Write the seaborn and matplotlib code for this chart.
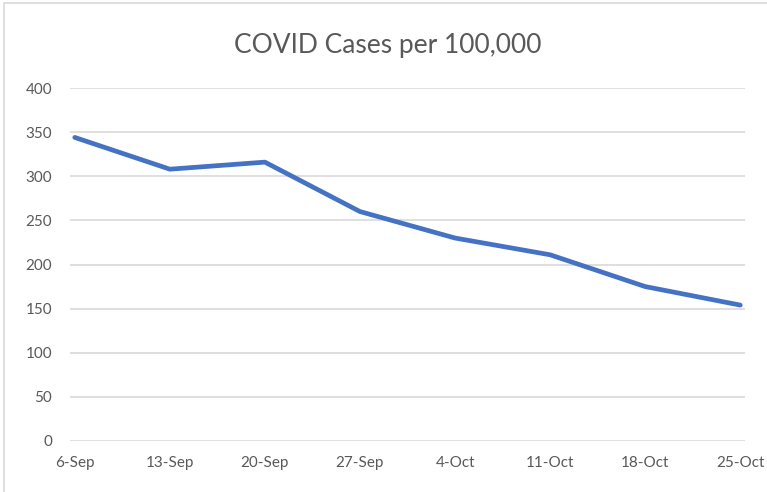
import numpy as np
import pandas as pd
from matplotlib import pyplot as plt
import seaborn as sns
from matplotlib.patches import Rectangle

weeks = ["6-Sep", "13-Sep", "20-Sep", "27-Sep", "4-Oct", "11-Oct", "18-Oct", "25-Oct"]
cases = [344, 308, 316, 260, 230, 211, 175, 154]
y_ticks = [0, 50, 100, 150, 200, 250, 300, 350, 400]

df = pd.DataFrame({"week": weeks, "cases": cases})

sns.set_theme(style="white")
plt.rcParams['font.family'] = ['Lato', 'DejaVu Sans']

fig = plt.figure(figsize=(7.67, 4.92), dpi=100)
ax = fig.add_axes([70 / 767, 1 - 441 / 492, 675 / 767, 353 / 492])

sns.lineplot(data=df, x="week", y="cases", sort=False, color="#4472C4",
             linewidth=3.4, ax=ax, solid_capstyle="round", solid_joinstyle="round")

ax.set_xlim(-0.05, len(weeks) - 1 + 0.05)
ax.set_ylim(0, 400)
ax.set_yticks(y_ticks)
ax.yaxis.grid(True, color="#D9D9D9", linewidth=1.2)
ax.set_axisbelow(True)
for s in ax.spines.values():
    s.set_visible(False)
ax.tick_params(axis="both", length=0, labelsize=11, labelcolor="#595959")
ax.tick_params(axis="y", pad=13)
ax.tick_params(axis="x", pad=11)
ax.set_xlabel("")
ax.set_ylabel("")

fig.text(388 / 767, 1 - 45 / 492, "COVID Cases per 100,000", ha="center", va="center",
         fontsize=19, color="#595959")

# chart border like the spreadsheet frame
fig.patches.append(Rectangle((4 / 767, -0.05), 1.0, 1 - 3 / 492 + 0.05, transform=fig.transFigure,
                             fill=False, edgecolor="#D9D9D9", linewidth=1.2))

fig.savefig("out.png", dpi=100)
